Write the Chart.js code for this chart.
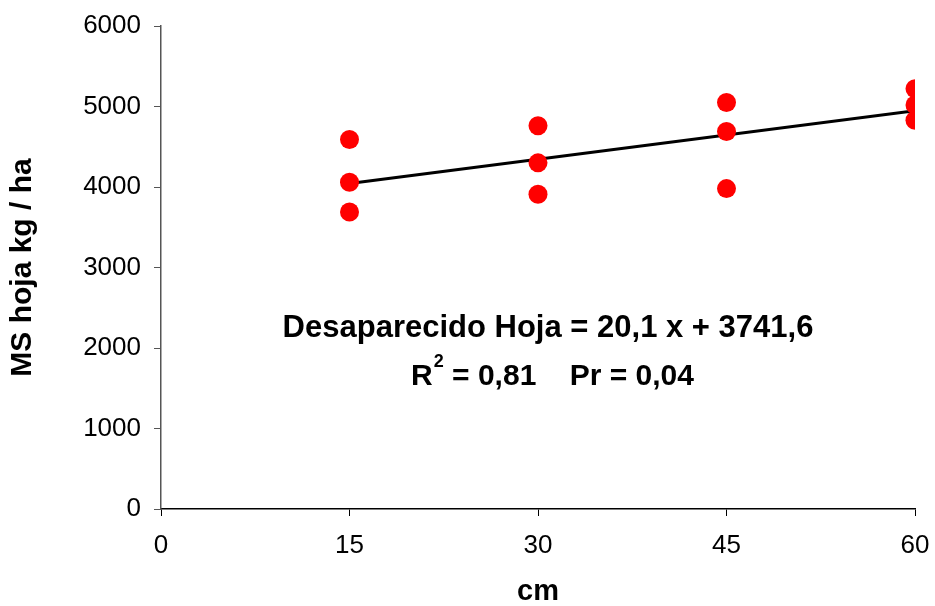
<!DOCTYPE html>
<html>
<head>
<meta charset="utf-8">
<script src="https://cdn.jsdelivr.net/npm/chart.js@4"></script>
<style>
  html, body { margin: 0; padding: 0; background: #fff; }
  #wrap { width: 935px; height: 606px; }
</style>
</head>
<body>
<div id="wrap"><canvas id="grafico" width="935" height="606"></canvas></div>
<script>
// Distancias (cm) y materia seca de hoja (kg/ha) por repetición
const distancias = [15, 15, 15, 30, 30, 30, 45, 45, 45, 60, 60, 60];
const msHoja = [4590, 4060, 3690, 4760, 4300, 3910, 5050, 4690, 3980, 5220, 5020, 4830];

// Recta de regresión
const pendiente = 20.1;
const intercepto = 3741.6;
const rangoRecta = [15, 60];

const ticksX = [0, 15, 30, 45, 60];
const ticksY = [0, 1000, 2000, 3000, 4000, 5000, 6000];

const lineaEcuacion = 'Desaparecido Hoja = 20,1 x + 3741,6';
const lineaAjuste = ['R', '2', ' = 0,81    Pr = 0,04'];

const FUENTE = '"Liberation Sans", Arial, sans-serif';

const puntos = distancias.map((x, i) => ({ x: x, y: msHoja[i] }));
const recta = rangoRecta.map(x => ({ x: x, y: pendiente * x + intercepto }));

// Texto de la ecuación dentro del área de gráfico
const ecuacion = {
    id: 'ecuacion',
    afterDatasetsDraw(chart) {
        const ctx = chart.ctx;
        const sy = chart.scales.y;
        const centro = (chart.chartArea.left + chart.chartArea.right) / 2;
        const base = sy.getPixelForValue(2000);
        ctx.save();
        ctx.fillStyle = '#000';
        ctx.textBaseline = 'alphabetic';

        ctx.font = 'bold 31px ' + FUENTE;
        ctx.textAlign = 'center';
        ctx.fillText(lineaEcuacion, centro + 10, base - 11);

        // Segunda línea con superíndice
        const y2 = base + 37;
        ctx.font = 'bold 30px ' + FUENTE;
        const w1 = ctx.measureText(lineaAjuste[0]).width;
        const w3 = ctx.measureText(lineaAjuste[2]).width;
        ctx.font = 'bold 18px ' + FUENTE;
        const w2 = ctx.measureText(lineaAjuste[1]).width;
        const x0 = centro + 14 - (w1 + w2 + w3) / 2;
        ctx.textAlign = 'left';
        ctx.fillText(lineaAjuste[1], x0 + w1 + 1, y2 - 18);
        ctx.font = 'bold 30px ' + FUENTE;
        ctx.fillText(lineaAjuste[0], x0, y2);
        ctx.fillText(lineaAjuste[2], x0 + w1 + w2 + 1, y2);
        ctx.restore();
    }
};

new Chart(document.getElementById('grafico'), {
    type: 'scatter',
    data: {
        datasets: [{
            label: 'MS hoja',
            data: puntos,
            backgroundColor: '#ff0000',
            borderWidth: 0,
            pointRadius: 9.5,
            pointHoverRadius: 9.5
        }, {
            label: 'Tendencia',
            type: 'line',
            data: recta,
            borderColor: '#000',
            borderWidth: 3,
            pointRadius: 0,
            fill: false
        }]
    },
    options: {
        responsive: false,
        animation: false,
        layout: { padding: { left: 0, top: 26, right: 20, bottom: 0 } },
        plugins: {
            legend: { display: false },
            tooltip: { enabled: false }
        },
        scales: {
            x: {
                type: 'linear',
                min: 0,
                max: 60,
                afterBuildTicks: s => { s.ticks = ticksX.map(v => ({ value: v })); },
                afterFit: s => { s.height = 97; s.paddingLeft = 0; s.paddingRight = 0; },
                grid: { drawOnChartArea: false, drawTicks: true, tickLength: 7, color: '#000' },
                border: { display: true, color: '#000', width: 1.5 },
                ticks: { color: '#000', font: { family: FUENTE, size: 26 }, padding: 14, maxRotation: 0, callback: v => String(v) },
                title: { display: true, text: 'cm', color: '#000', font: { family: FUENTE, size: 29, weight: 'bold' }, padding: { top: 0, bottom: -3 } }
            },
            y: {
                type: 'linear',
                min: 0,
                max: 6000,
                afterBuildTicks: s => { s.ticks = ticksY.map(v => ({ value: v })); },
                afterFit: s => { s.width = 161; s.paddingTop = 0; s.paddingBottom = 0; },
                grid: { drawOnChartArea: false, drawTicks: true, tickLength: 7, color: '#555' },
                border: { display: true, color: '#555', width: 1.5 },
                ticks: { color: '#000', font: { family: FUENTE, size: 26 }, padding: 13, callback: v => String(v) },
                title: { display: true, text: 'MS hoja kg / ha', color: '#000', font: { family: FUENTE, size: 30, weight: 'bold' }, padding: { top: 5, bottom: 0 } }
            }
        }
    },
    plugins: [ecuacion]
});
</script>
</body>
</html>
